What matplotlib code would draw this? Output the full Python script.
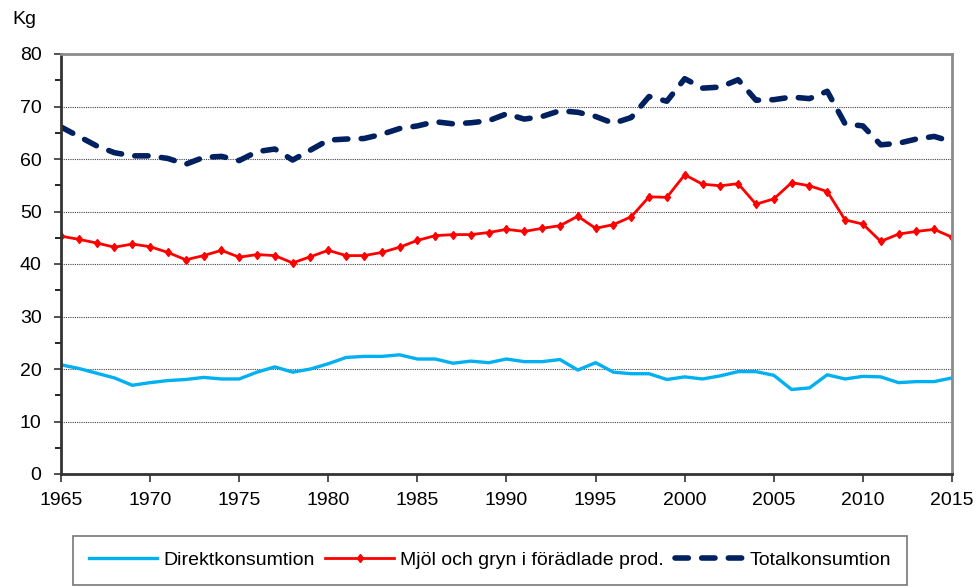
import matplotlib.pyplot as plt
from matplotlib.ticker import MultipleLocator

plt.rcParams['font.family'] = ['Liberation Sans', 'DejaVu Sans']

years = list(range(1965, 2016))

direkt = [20.8, 20.1, 19.2, 18.3, 16.9, 17.4, 17.8, 18.0, 18.4, 18.1,
          18.1, 19.4, 20.4, 19.4, 20.0, 21.0, 22.2, 22.4, 22.4, 22.7,
          21.9, 21.9, 21.1, 21.5, 21.2, 21.9, 21.4, 21.4, 21.8, 19.8,
          21.2, 19.4, 19.1, 19.1, 18.0, 18.5, 18.1, 18.7, 19.5, 19.5,
          18.8, 16.1, 16.4, 18.9, 18.1, 18.6, 18.5, 17.4, 17.6, 17.6,
          18.3]

mjol = [45.3, 44.7, 44.0, 43.2, 43.8, 43.3, 42.2, 40.8, 41.6, 42.6,
        41.3, 41.8, 41.6, 40.2, 41.4, 42.6, 41.6, 41.6, 42.2, 43.2,
        44.5, 45.4, 45.6, 45.6, 46.0, 46.6, 46.2, 46.8, 47.3, 49.1,
        46.8, 47.5, 49.0, 52.8, 52.7, 57.0, 55.2, 54.9, 55.3, 51.4,
        52.4, 55.5, 54.9, 53.8, 48.4, 47.6, 44.3, 45.7, 46.2, 46.6,
        45.1]

total = [66.1, 64.3, 62.5, 61.2, 60.6, 60.6, 60.1, 59.0, 60.3, 60.5,
         59.7, 61.4, 61.9, 59.8, 61.7, 63.6, 63.8, 63.9, 64.7, 65.8,
         66.3, 67.1, 66.7, 66.9, 67.3, 68.6, 67.6, 68.1, 69.2, 68.9,
         68.1, 66.8, 67.9, 71.9, 71.0, 75.3, 73.5, 73.7, 75.1, 71.2,
         71.3, 71.8, 71.5, 72.9, 66.7, 66.3, 62.7, 63.0, 63.8, 64.3,
         63.3]

labels = ['Direktkonsumtion', 'Mjöl och gryn i förädlade prod.', 'Totalkonsumtion']

fig = plt.figure(figsize=(9.79, 5.88), dpi=100)
ax = fig.add_axes([61 / 979, 1 - 474 / 588, 891 / 979, 420 / 588])

ax.plot(years, direkt, color='#00B0F0', lw=2.4, label=labels[0])
ax.plot(years, mjol, color='#FF0000', lw=2.0, marker='d', markersize=4.5,
        label=labels[1])
ax.plot(years, total, color='#002060', lw=4.0, linestyle=(0, (2.4, 2.4)),
        dash_capstyle='round', label=labels[2])

ax.set_xlim(1965, 2015)
ax.set_ylim(0, 80)
ax.xaxis.set_major_locator(MultipleLocator(5))
ax.yaxis.set_major_locator(MultipleLocator(10))
ax.yaxis.set_minor_locator(MultipleLocator(5))
ax.tick_params(axis='both', labelsize=14, direction='out', color='#333333')
ax.tick_params(axis='y', which='major', length=5, width=1.2, pad=9)
ax.tick_params(axis='y', which='minor', length=4, width=1.2)
ax.tick_params(axis='x', length=6, width=1.2, pad=7)

ax.grid(axis='y', which='major', linestyle=(0, (1, 1)), color='#444444', lw=0.8)
ax.set_axisbelow(True)

for s in ['left', 'bottom']:
    ax.spines[s].set_color('#333333')
    ax.spines[s].set_linewidth(2)
for s in ['top', 'right']:
    ax.spines[s].set_color('#8C8C8C')
    ax.spines[s].set_linewidth(2)

fig.text(12 / 979, 1 - 20 / 588, 'Kg', fontsize=14, va='center', ha='left')

leg = fig.legend(loc='upper left', bbox_to_anchor=(73 / 979, 1 - 536 / 588),
                 ncol=3, fontsize=14, frameon=True, fancybox=False,
                 handlelength=3.5, handletextpad=0.35, columnspacing=0.55,
                 borderpad=0.8, borderaxespad=0)
leg.get_frame().set_edgecolor('#555555')
leg.get_frame().set_linewidth(1.2)

fig.savefig('out.png', dpi=100)
